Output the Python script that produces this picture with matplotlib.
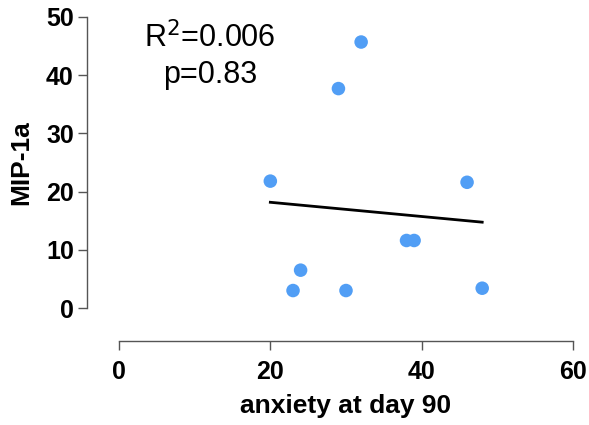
import numpy as np
import matplotlib
matplotlib.use("Agg")
import matplotlib.pyplot as plt

plt.rcParams['font.family'] = ['Liberation Sans', 'DejaVu Sans']

anxiety = [20, 32, 29, 46, 38, 39, 24, 23, 30, 48]
mip1a = [21.8, 45.7, 37.7, 21.6, 11.6, 11.6, 6.5, 3.0, 3.0, 3.4]
x_ticks = [0, 20, 40, 60]
y_ticks = [0, 10, 20, 30, 40, 50]

x = np.array(anxiety)
y = np.array(mip1a)
slope, intercept = np.polyfit(x, y, 1)
xfit = np.array([x.min(), x.max()])

W, H = 589, 425
fig = plt.figure(figsize=(W / 100, H / 100), dpi=100)
ax = fig.add_axes([119 / W, 1 - 308 / H, (573 - 119) / W, (308 - 17) / H])

ax.scatter(x, y, s=95, color='#519EF5', edgecolors='none', zorder=3, clip_on=False)
ax.plot(xfit, slope * xfit + intercept, color='black', linewidth=2.0, zorder=2)

ax.set_xlim(0, 60)
ax.set_ylim(0, 50)
ax.set_xticks(x_ticks)
ax.set_yticks(y_ticks)

for s in ['top', 'right']:
    ax.spines[s].set_visible(False)
ax.spines['left'].set_position(('outward', 23))
ax.spines['bottom'].set_position(('outward', 24))
ax.spines['left'].set_bounds(0, 50)
ax.spines['bottom'].set_bounds(0, 60)
for s in ['left', 'bottom']:
    ax.spines[s].set_color('#555555')
    ax.spines[s].set_linewidth(1.0)

ax.tick_params(axis='both', length=6.5, width=1.0, color='#555555', labelsize=18)
ax.tick_params(axis='y', pad=3)
ax.tick_params(axis='x', pad=7)
for lab in ax.get_xticklabels() + ax.get_yticklabels():
    lab.set_fontweight('bold')

ax.set_xlabel('anxiety at day 90', fontsize=19, fontweight='bold', labelpad=7)
ax.set_ylabel('MIP-1a', fontsize=19, fontweight='bold', labelpad=9)

fig.text(210 / W, 1 - 47 / H, r'R$^2$=0.006', fontsize=22, ha='center', va='baseline')
fig.text(210 / W, 1 - 83 / H, 'p=0.83', fontsize=22, ha='center', va='baseline')

fig.savefig('out.png', dpi=100)
